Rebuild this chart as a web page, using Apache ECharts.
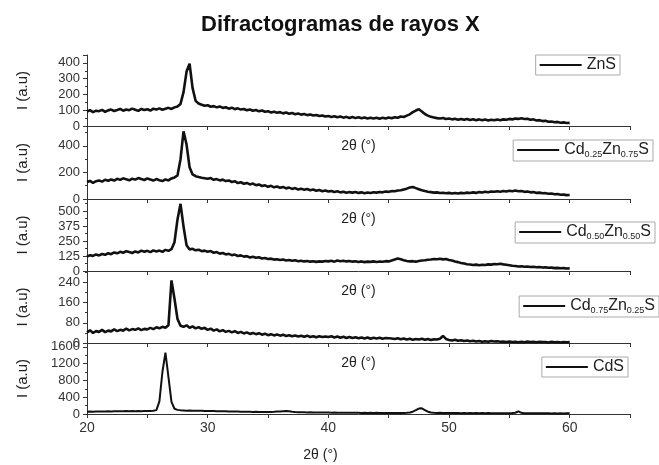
<!DOCTYPE html>
<html lang="es">

<head>
  <meta charset="UTF-8">
  <script src="https://cdn.jsdelivr.net/npm/echarts@6/dist/echarts.min.js"></script>
  <title>Difractogramas de rayos X</title>
  <style>
    html, body { margin: 0; padding: 0; background: #fff; }
    #chart { width: 659px; height: 465px; }
  </style>
</head>

<body>
  <div id="chart"></div>
  <script>
    // 2θ muestreado desde 20° cada 0.25°
    const thetaStart = 20;
    const thetaStep = 0.25;

    // intensidades (a.u), una fila = 2°
    const yZnS = [
      92, 100, 88, 97, 94, 102, 90, 99,
      104, 95, 101, 108, 97, 105, 100, 110,
      103, 96, 108, 101, 106, 98, 110, 104,
      112, 103, 109, 115, 108, 118, 124, 140,
      215, 345, 395, 240, 160, 142, 135, 128,
      132, 122, 126, 118, 124, 115, 119, 110,
      116, 107, 112, 104, 108, 100, 105, 97,
      101, 93, 98, 90, 94, 86, 91, 84,
      88, 80, 85, 78, 82, 75, 79, 72,
      76, 69, 73, 66, 70, 63, 67, 60,
      64, 57, 62, 55, 60, 53, 58, 51,
      57, 50, 55, 49, 54, 48, 53, 47,
      52, 46, 53, 48, 54, 49, 56, 52,
      60, 57, 66, 74, 88, 98, 106, 92,
      76, 66, 58, 54, 50, 47, 51, 44,
      48, 42, 46, 40, 45, 39, 44, 38,
      43, 37, 42, 36, 41, 35, 40, 36,
      41, 37, 42, 40, 45, 42, 47, 45,
      49, 44, 46, 40, 42, 35, 37, 31,
      33, 27, 29, 24, 26, 21, 23, 19,
      20
    ];
    const yCd25 = [
      128, 136, 122, 134, 140, 131, 145, 138,
      147, 139, 152, 144, 156, 148, 141, 153,
      146, 158, 150, 143, 155, 147, 139, 150,
      142, 135, 148, 140, 155, 162, 178, 300,
      510, 410, 240, 185, 172, 165, 160, 156,
      152, 158, 145, 150, 140, 146, 135, 140,
      128, 134, 120, 126, 115, 121, 110, 116,
      104, 110, 98, 103, 92, 99, 88, 94,
      85, 91, 80, 86, 76, 82, 72, 78,
      70, 75, 66, 71, 62, 68, 59, 64,
      56, 61, 53, 58, 50, 55, 47, 52,
      48, 53, 46, 50, 44, 49, 45, 51,
      48, 53, 50, 56, 54, 59, 58, 64,
      66, 72, 78, 86, 90, 82, 74, 66,
      60, 55, 52, 48, 50, 45, 47, 43,
      46, 42, 45, 41, 46, 43, 48, 45,
      50, 46, 52, 49, 55, 51, 57, 54,
      58, 55, 60, 57, 62, 59, 64, 58,
      60, 54, 56, 50, 52, 46, 48, 43,
      44, 39, 41, 36, 37, 32, 33, 29,
      30
    ];
    const yCd50 = [
      120, 132, 126, 138, 130, 142, 135, 148,
      140, 155, 147, 160, 152, 165, 158, 150,
      163, 155, 170, 160, 168, 157, 172, 163,
      170, 160, 176, 168, 182, 240, 430, 560,
      370, 215, 180, 185, 172, 178, 165, 170,
      160, 166, 152, 158, 145, 150, 138, 143,
      132, 137, 125, 130, 120, 124, 113, 118,
      110, 114, 104, 108, 100, 103, 95, 98,
      92, 96, 88, 91, 85, 89, 82, 86,
      80, 84, 78, 82, 76, 80, 78, 83,
      80, 85, 78, 88, 82, 86, 80, 84,
      78, 82, 75, 80, 74, 78, 76, 80,
      75, 79, 77, 82, 80, 88, 96, 104,
      98, 90, 84, 80, 82, 78, 84, 88,
      90, 94, 96, 100, 98, 102, 97, 100,
      92, 88, 80, 74, 66, 62, 56, 54,
      50, 53, 48, 52, 50, 55, 53, 58,
      56, 60, 55, 52, 48, 44, 42, 38,
      40, 36, 38, 33, 35, 31, 33, 29,
      30, 27, 28, 24, 26, 23, 24, 21,
      22
    ];
    const yCd75 = [
      42, 50, 40, 47, 44, 52, 43, 49,
      46, 54, 47, 52, 49, 57, 50, 55,
      52, 58, 51, 56, 54, 60, 55, 62,
      58, 64, 60, 70, 248, 175, 95, 68,
      64, 70, 60, 66, 58, 63, 56, 60,
      52, 57, 49, 54, 46, 51, 44, 48,
      42, 47, 40, 44, 38, 42, 36, 40,
      35, 39, 33, 37, 31, 35, 30, 34,
      29, 33, 28, 31, 27, 30, 26, 29,
      25, 29, 24, 27, 23, 27, 24, 26,
      24, 27, 22, 26, 21, 25, 20, 24,
      20, 23, 19, 22, 18, 22, 17, 21,
      18, 21, 17, 20, 19, 18, 16, 19,
      15, 18, 14, 17, 13, 16, 14, 17,
      13, 16, 12, 15, 14, 17, 28, 16,
      12, 10, 13, 9, 11, 8, 10, 7,
      9, 6, 8, 5, 7, 5, 8, 6,
      7, 5, 6, 4, 6, 4, 5, 3,
      5, 3, 6, 4, 5, 3, 5, 4,
      4, 2, 5, 3, 4, 2, 4, 3,
      4
    ];
    const yCdS = [
      52, 58, 55, 60, 57, 62, 59, 64,
      61, 66, 63, 68, 64, 69, 66, 70,
      67, 72, 68, 73, 70, 74, 78, 92,
      300, 1000, 1460, 880, 290, 125, 98, 88,
      84, 80, 82, 77, 79, 75, 77, 72,
      74, 70, 71, 67, 68, 64, 65, 61,
      62, 58, 59, 55, 56, 52, 53, 50,
      51, 47, 48, 45, 46, 48, 52, 58,
      62, 68, 72, 64, 55, 47, 44, 40,
      41, 38, 39, 36, 37, 34, 36, 33,
      34, 31, 33, 30, 32, 29, 31, 28,
      30, 27, 29, 26, 28, 25, 27, 24,
      27, 24, 26, 23, 25, 22, 25, 23,
      26, 24, 30, 38, 55, 90, 130, 135,
      95, 55, 35, 30, 26, 28, 24, 26,
      23, 25, 21, 24, 20, 23, 19, 22,
      20, 23, 19, 21, 18, 22, 18, 20,
      17, 20, 16, 19, 18, 22, 30, 62,
      28, 19, 17, 20, 16, 18, 15, 17,
      15, 17, 14, 16, 13, 15, 14, 16,
      15
    ];

    const sampleNames = ['ZnS', 'Cd0.25Zn0.75S', 'Cd0.50Zn0.50S', 'Cd0.75Zn0.25S', 'CdS'];
    const legendLabels = [
      'ZnS',
      'Cd{s|0.25}Zn{s|0.75}S',
      'Cd{s|0.50}Zn{s|0.50}S',
      'Cd{s|0.75}Zn{s|0.25}S',
      'CdS'
    ];
    const intensities = [yZnS, yCd25, yCd50, yCd75, yCdS];
    const yMax = [450, 550, 600, 285, 1690];
    const yInterval = [100, 200, 125, 80, 400];

    const font = 'Liberation Sans, Arial, sans-serif';
    const axisColor = '#333';

    // posición de cada panel (px)
    const panelTop = [55, 126, 199, 271, 343];
    const panelHeight = [71, 73, 72, 72, 71];
    const lineWidth = [2.6, 2.6, 2.6, 2.6, 2];
    const legendBox = [
      { right: 39, top: 55 },
      { right: 6, top: 140 },
      { right: 4, top: 222 },
      { right: 0, top: 296 },
      { right: 31, top: 357 }
    ];

    let chart = echarts.init(document.getElementById('chart'));

    const grids = [], xAxes = [], yAxes = [], series = [], legends = [];
    sampleNames.forEach((name, k) => {
      const isLast = k === sampleNames.length - 1;
      grids.push({
        left: 87, right: 29, top: panelTop[k], height: panelHeight[k],
        containLabel: false, outerBoundsMode: 'none'
      });
      xAxes.push({
        gridIndex: k, type: 'value', min: 20, max: 65, interval: 5,
        name: '2θ (°)', nameLocation: 'middle', nameGap: isLast ? 34 : 13,
        nameTextStyle: {
          fontFamily: font, fontSize: 14, color: '#222',
          padding: isLast ? [0, 76, 0, 0] : 0
        },
        axisLine: { onZero: false, lineStyle: { color: axisColor, width: 1 } },
        axisTick: { show: true, length: 4, lineStyle: { color: axisColor } },
        axisLabel: {
          show: isLast, fontFamily: font, fontSize: 14, color: '#333', margin: 7,
          formatter: v => (v % 10 === 0 && v <= 60 ? String(v) : '')
        },
        splitLine: { show: false }
      });
      yAxes.push({
        gridIndex: k, type: 'value', min: 0, max: yMax[k], interval: yInterval[k],
        name: 'I (a.u)', nameLocation: 'middle', nameGap: 57,
        nameTextStyle: { fontFamily: font, fontSize: 15, color: '#222' },
        axisLine: { show: true, lineStyle: { color: axisColor, width: 1 } },
        axisTick: { show: true, length: 4, lineStyle: { color: axisColor } },
        minorTick: { show: true, splitNumber: 2, length: 2, lineStyle: { color: axisColor } },
        axisLabel: {
          fontFamily: font, fontSize: 13, color: '#333', margin: 7,
          showMaxLabel: false,
          formatter: v => String(v)
        },
        splitLine: { show: false }
      });
      series.push({
        name: name, type: 'line', xAxisIndex: k, yAxisIndex: k,
        data: intensities[k].map((v, i) => [thetaStart + i * thetaStep, v]),
        symbol: 'none', lineStyle: { color: '#111', width: lineWidth[k] },
        itemStyle: { color: '#111' }, z: 3
      });
      legends.push({
        data: [name], right: legendBox[k].right, top: legendBox[k].top,
        orient: 'vertical', icon: 'rect', itemWidth: 42, itemHeight: 2, itemGap: 0,
        padding: [2, 4, 2, 4],
        borderColor: '#aaa', borderWidth: 1, backgroundColor: '#fff',
        selectedMode: false,
        formatter: () => legendLabels[k],
        textStyle: {
          fontFamily: font, fontSize: 16, color: '#222',
          rich: { s: { fontFamily: font, fontSize: 9, color: '#222', padding: [9, 0, 0, 0] } }
        }
      });
    });

    chart.setOption({
      animation: false,
      backgroundColor: '#fff',
      title: {
        text: 'Difractogramas de rayos X', left: 196, top: 9,
        textStyle: { fontFamily: font, fontSize: 22, fontWeight: 'bold', color: '#111' }
      },
      grid: grids,
      xAxis: xAxes,
      yAxis: yAxes,
      legend: legends,
      series: series
    });
  </script>
</body>

</html>
